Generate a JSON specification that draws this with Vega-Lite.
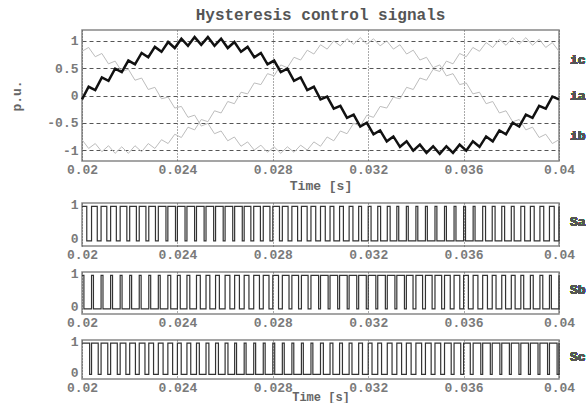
{
"$schema": "https://vega.github.io/schema/vega-lite/v6.json",
"padding": {"left": 10, "top": 6, "right": 0, "bottom": 0},
"background": "white",
"spacing": 4,
"config": {
  "view": {"stroke": "#888", "strokeWidth": 1.5},
  "font": "Liberation Mono",
  "axis": {"labelFont": "Liberation Mono", "labelFontWeight": "bold", "labelFontSize": 13, "labelColor": "#7a7a7a", "labelOverlap": false, "tickSize": 0, "domain": false, "labelPadding": 2, "gridColor": "#555", "gridOpacity": 1, "titleFont": "Liberation Mono", "titleFontWeight": "bold", "titleFontSize": 13, "titleColor": "#666"},
  "axisY": {"labelPadding": 4},
  "text": {"font": "Liberation Mono", "fontWeight": "bold", "fontSize": 13, "color": "#555"},
  "title": {"font": "Liberation Mono", "fontWeight": "bold", "fontSize": 16, "color": "#555"}
},
"datasets": {
"cur": [
{"t":0.02,"ia":-0.07,"ib":-0.81,"ic":0.81},
{"t":0.020278,"ia":0.16,"ib":-0.97,"ic":0.88},
{"t":0.020556,"ia":0.10,"ib":-0.88,"ic":0.71},
{"t":0.020833,"ia":0.33,"ib":-1.03,"ic":0.77},
{"t":0.021111,"ia":0.27,"ib":-0.92,"ic":0.58},
{"t":0.021389,"ia":0.49,"ib":-1.06,"ic":0.63},
{"t":0.021667,"ia":0.43,"ib":-0.94,"ic":0.44},
{"t":0.021944,"ia":0.64,"ib":-1.06,"ic":0.48},
{"t":0.022222,"ia":0.57,"ib":-0.92,"ic":0.28},
{"t":0.0225,"ia":0.78,"ib":-1.03,"ic":0.32},
{"t":0.022778,"ia":0.70,"ib":-0.88,"ic":0.11},
{"t":0.023056,"ia":0.89,"ib":-0.97,"ic":0.15},
{"t":0.023333,"ia":0.80,"ib":-0.81,"ic":-0.06},
{"t":0.023611,"ia":0.98,"ib":-0.88,"ic":-0.03},
{"t":0.023889,"ia":0.87,"ib":-0.71,"ic":-0.23},
{"t":0.024167,"ia":1.04,"ib":-0.77,"ic":-0.20},
{"t":0.024444,"ia":0.91,"ib":-0.58,"ic":-0.40},
{"t":0.024722,"ia":1.07,"ib":-0.63,"ic":-0.36},
{"t":0.025,"ia":0.93,"ib":-0.44,"ic":-0.56},
{"t":0.025278,"ia":1.07,"ib":-0.48,"ic":-0.51},
{"t":0.025556,"ia":0.91,"ib":-0.28,"ic":-0.70},
{"t":0.025833,"ia":1.04,"ib":-0.32,"ic":-0.65},
{"t":0.026111,"ia":0.87,"ib":-0.11,"ic":-0.83},
{"t":0.026389,"ia":0.98,"ib":-0.15,"ic":-0.76},
{"t":0.026667,"ia":0.80,"ib":0.06,"ic":-0.93},
{"t":0.026944,"ia":0.89,"ib":0.03,"ic":-0.85},
{"t":0.027222,"ia":0.70,"ib":0.23,"ic":-1.00},
{"t":0.0275,"ia":0.78,"ib":0.20,"ic":-0.91},
{"t":0.027778,"ia":0.57,"ib":0.40,"ic":-1.04},
{"t":0.028056,"ia":0.64,"ib":0.36,"ic":-0.94},
{"t":0.028333,"ia":0.43,"ib":0.56,"ic":-1.06},
{"t":0.028611,"ia":0.49,"ib":0.51,"ic":-0.94},
{"t":0.028889,"ia":0.27,"ib":0.70,"ic":-1.04},
{"t":0.029167,"ia":0.33,"ib":0.65,"ic":-0.91},
{"t":0.029444,"ia":0.10,"ib":0.83,"ic":-1.00},
{"t":0.029722,"ia":0.16,"ib":0.76,"ic":-0.85},
{"t":0.03,"ia":-0.07,"ib":0.93,"ic":-0.93},
{"t":0.030278,"ia":-0.02,"ib":0.85,"ic":-0.76},
{"t":0.030556,"ia":-0.24,"ib":1.00,"ic":-0.83},
{"t":0.030833,"ia":-0.19,"ib":0.91,"ic":-0.65},
{"t":0.031111,"ia":-0.41,"ib":1.04,"ic":-0.70},
{"t":0.031389,"ia":-0.35,"ib":0.94,"ic":-0.51},
{"t":0.031667,"ia":-0.57,"ib":1.06,"ic":-0.56},
{"t":0.031944,"ia":-0.50,"ib":0.94,"ic":-0.36},
{"t":0.032222,"ia":-0.71,"ib":1.04,"ic":-0.40},
{"t":0.0325,"ia":-0.64,"ib":0.91,"ic":-0.20},
{"t":0.032778,"ia":-0.84,"ib":1.00,"ic":-0.23},
{"t":0.033056,"ia":-0.75,"ib":0.85,"ic":-0.03},
{"t":0.033333,"ia":-0.94,"ib":0.93,"ic":-0.06},
{"t":0.033611,"ia":-0.84,"ib":0.76,"ic":0.15},
{"t":0.033889,"ia":-1.01,"ib":0.83,"ic":0.11},
{"t":0.034167,"ia":-0.90,"ib":0.65,"ic":0.32},
{"t":0.034444,"ia":-1.05,"ib":0.70,"ic":0.28},
{"t":0.034722,"ia":-0.93,"ib":0.51,"ic":0.48},
{"t":0.035,"ia":-1.07,"ib":0.56,"ic":0.44},
{"t":0.035278,"ia":-0.93,"ib":0.36,"ic":0.63},
{"t":0.035556,"ia":-1.05,"ib":0.40,"ic":0.58},
{"t":0.035833,"ia":-0.90,"ib":0.20,"ic":0.77},
{"t":0.036111,"ia":-1.01,"ib":0.23,"ic":0.71},
{"t":0.036389,"ia":-0.84,"ib":0.03,"ic":0.88},
{"t":0.036667,"ia":-0.94,"ib":0.06,"ic":0.81},
{"t":0.036944,"ia":-0.75,"ib":-0.15,"ic":0.97},
{"t":0.037222,"ia":-0.84,"ib":-0.11,"ic":0.88},
{"t":0.0375,"ia":-0.64,"ib":-0.32,"ic":1.03},
{"t":0.037778,"ia":-0.71,"ib":-0.28,"ic":0.92},
{"t":0.038056,"ia":-0.50,"ib":-0.48,"ic":1.06},
{"t":0.038333,"ia":-0.57,"ib":-0.44,"ic":0.94},
{"t":0.038611,"ia":-0.35,"ib":-0.63,"ic":1.06},
{"t":0.038889,"ia":-0.41,"ib":-0.58,"ic":0.92},
{"t":0.039167,"ia":-0.19,"ib":-0.77,"ic":1.03},
{"t":0.039444,"ia":-0.24,"ib":-0.71,"ic":0.88},
{"t":0.039722,"ia":-0.02,"ib":-0.88,"ic":0.97},
{"t":0.04,"ia":-0.07,"ib":-0.81,"ic":0.81}
],
"sa": [
{"t":0.0200,"v":1},{"t":0.02020,"v":0},{"t":0.0204,"v":1},{"t":0.02064,"v":0},{"t":0.0208,"v":1},{"t":0.02104,"v":0},{"t":0.0212,"v":1},{"t":0.02144,"v":0},{"t":0.0216,"v":1},{"t":0.02188,"v":0},
{"t":0.0220,"v":1},{"t":0.02228,"v":0},{"t":0.0224,"v":1},{"t":0.02268,"v":0},{"t":0.0228,"v":1},{"t":0.02308,"v":0},{"t":0.0232,"v":1},{"t":0.02352,"v":0},{"t":0.0236,"v":1},{"t":0.02392,"v":0},
{"t":0.0240,"v":1},{"t":0.02432,"v":0},{"t":0.0244,"v":1},{"t":0.02472,"v":0},{"t":0.0248,"v":1},{"t":0.02512,"v":0},{"t":0.0252,"v":1},{"t":0.02552,"v":0},{"t":0.0256,"v":1},{"t":0.02592,"v":0},
{"t":0.0260,"v":1},{"t":0.02632,"v":0},{"t":0.0264,"v":1},{"t":0.02672,"v":0},{"t":0.0268,"v":1},{"t":0.02708,"v":0},{"t":0.0272,"v":1},{"t":0.02748,"v":0},{"t":0.0276,"v":1},{"t":0.02788,"v":0},
{"t":0.0280,"v":1},{"t":0.02828,"v":0},{"t":0.0284,"v":1},{"t":0.02864,"v":0},{"t":0.0288,"v":1},{"t":0.02904,"v":0},{"t":0.0292,"v":1},{"t":0.02944,"v":0},{"t":0.0296,"v":1},{"t":0.02980,"v":0},
{"t":0.0300,"v":1},{"t":0.03020,"v":0},{"t":0.0304,"v":1},{"t":0.03056,"v":0},{"t":0.0308,"v":1},{"t":0.03096,"v":0},{"t":0.0312,"v":1},{"t":0.03136,"v":0},{"t":0.0316,"v":1},{"t":0.03172,"v":0},
{"t":0.0320,"v":1},{"t":0.03212,"v":0},{"t":0.0324,"v":1},{"t":0.03252,"v":0},{"t":0.0328,"v":1},{"t":0.03292,"v":0},{"t":0.0332,"v":1},{"t":0.03328,"v":0},{"t":0.0336,"v":1},{"t":0.03368,"v":0},
{"t":0.0340,"v":1},{"t":0.03408,"v":0},{"t":0.0344,"v":1},{"t":0.03448,"v":0},{"t":0.0348,"v":1},{"t":0.03488,"v":0},{"t":0.0352,"v":1},{"t":0.03528,"v":0},{"t":0.0356,"v":1},{"t":0.03568,"v":0},
{"t":0.0360,"v":1},{"t":0.03608,"v":0},{"t":0.0364,"v":1},{"t":0.03648,"v":0},{"t":0.0368,"v":1},{"t":0.03692,"v":0},{"t":0.0372,"v":1},{"t":0.03732,"v":0},{"t":0.0376,"v":1},{"t":0.03772,"v":0},
{"t":0.0380,"v":1},{"t":0.03812,"v":0},{"t":0.0384,"v":1},{"t":0.03856,"v":0},{"t":0.0388,"v":1},{"t":0.03896,"v":0},{"t":0.0392,"v":1},{"t":0.03936,"v":0},{"t":0.0396,"v":1},{"t":0.03980,"v":0},
{"t":0.0400,"v":1}
],
"sb": [
{"t":0.0200,"v":1},{"t":0.02008,"v":0},{"t":0.0204,"v":1},{"t":0.02048,"v":0},{"t":0.0208,"v":1},{"t":0.02088,"v":0},{"t":0.0212,"v":1},{"t":0.02128,"v":0},{"t":0.0216,"v":1},{"t":0.02168,"v":0},
{"t":0.0220,"v":1},{"t":0.02208,"v":0},{"t":0.0224,"v":1},{"t":0.02248,"v":0},{"t":0.0228,"v":1},{"t":0.02288,"v":0},{"t":0.0232,"v":1},{"t":0.02328,"v":0},{"t":0.0236,"v":1},{"t":0.02372,"v":0},
{"t":0.0240,"v":1},{"t":0.02412,"v":0},{"t":0.0244,"v":1},{"t":0.02452,"v":0},{"t":0.0248,"v":1},{"t":0.02496,"v":0},{"t":0.0252,"v":1},{"t":0.02536,"v":0},{"t":0.0256,"v":1},{"t":0.02576,"v":0},
{"t":0.0260,"v":1},{"t":0.02620,"v":0},{"t":0.0264,"v":1},{"t":0.02660,"v":0},{"t":0.0268,"v":1},{"t":0.02700,"v":0},{"t":0.0272,"v":1},{"t":0.02744,"v":0},{"t":0.0276,"v":1},{"t":0.02784,"v":0},
{"t":0.0280,"v":1},{"t":0.02824,"v":0},{"t":0.0284,"v":1},{"t":0.02868,"v":0},{"t":0.0288,"v":1},{"t":0.02908,"v":0},{"t":0.0292,"v":1},{"t":0.02948,"v":0},{"t":0.0296,"v":1},{"t":0.02992,"v":0},
{"t":0.0300,"v":1},{"t":0.03032,"v":0},{"t":0.0304,"v":1},{"t":0.03072,"v":0},{"t":0.0308,"v":1},{"t":0.03112,"v":0},{"t":0.0312,"v":1},{"t":0.03152,"v":0},{"t":0.0316,"v":1},{"t":0.03192,"v":0},
{"t":0.0320,"v":1},{"t":0.03232,"v":0},{"t":0.0324,"v":1},{"t":0.03272,"v":0},{"t":0.0328,"v":1},{"t":0.03312,"v":0},{"t":0.0332,"v":1},{"t":0.03352,"v":0},{"t":0.0336,"v":1},{"t":0.03388,"v":0},
{"t":0.0340,"v":1},{"t":0.03428,"v":0},{"t":0.0344,"v":1},{"t":0.03468,"v":0},{"t":0.0348,"v":1},{"t":0.03508,"v":0},{"t":0.0352,"v":1},{"t":0.03544,"v":0},{"t":0.0356,"v":1},{"t":0.03584,"v":0},
{"t":0.0360,"v":1},{"t":0.03620,"v":0},{"t":0.0364,"v":1},{"t":0.03660,"v":0},{"t":0.0368,"v":1},{"t":0.03700,"v":0},{"t":0.0372,"v":1},{"t":0.03736,"v":0},{"t":0.0376,"v":1},{"t":0.03776,"v":0},
{"t":0.0380,"v":1},{"t":0.03816,"v":0},{"t":0.0384,"v":1},{"t":0.03852,"v":0},{"t":0.0388,"v":1},{"t":0.03892,"v":0},{"t":0.0392,"v":1},{"t":0.03932,"v":0},{"t":0.0396,"v":1},{"t":0.03968,"v":0},
{"t":0.0400,"v":1}
],
"sc": [
{"t":0.0200,"v":1},{"t":0.02032,"v":0},{"t":0.0204,"v":1},{"t":0.02068,"v":0},{"t":0.0208,"v":1},{"t":0.02108,"v":0},{"t":0.0212,"v":1},{"t":0.02148,"v":0},{"t":0.0216,"v":1},{"t":0.02184,"v":0},
{"t":0.0220,"v":1},{"t":0.02224,"v":0},{"t":0.0224,"v":1},{"t":0.02264,"v":0},{"t":0.0228,"v":1},{"t":0.02300,"v":0},{"t":0.0232,"v":1},{"t":0.02340,"v":0},{"t":0.0236,"v":1},{"t":0.02380,"v":0},
{"t":0.0240,"v":1},{"t":0.02416,"v":0},{"t":0.0244,"v":1},{"t":0.02456,"v":0},{"t":0.0248,"v":1},{"t":0.02492,"v":0},{"t":0.0252,"v":1},{"t":0.02532,"v":0},{"t":0.0256,"v":1},{"t":0.02572,"v":0},
{"t":0.0260,"v":1},{"t":0.02612,"v":0},{"t":0.0264,"v":1},{"t":0.02648,"v":0},{"t":0.0268,"v":1},{"t":0.02688,"v":0},{"t":0.0272,"v":1},{"t":0.02728,"v":0},{"t":0.0276,"v":1},{"t":0.02768,"v":0},
{"t":0.0280,"v":1},{"t":0.02808,"v":0},{"t":0.0284,"v":1},{"t":0.02848,"v":0},{"t":0.0288,"v":1},{"t":0.02888,"v":0},{"t":0.0292,"v":1},{"t":0.02928,"v":0},{"t":0.0296,"v":1},{"t":0.02968,"v":0},
{"t":0.0300,"v":1},{"t":0.03012,"v":0},{"t":0.0304,"v":1},{"t":0.03052,"v":0},{"t":0.0308,"v":1},{"t":0.03092,"v":0},{"t":0.0312,"v":1},{"t":0.03132,"v":0},{"t":0.0316,"v":1},{"t":0.03176,"v":0},
{"t":0.0320,"v":1},{"t":0.03216,"v":0},{"t":0.0324,"v":1},{"t":0.03256,"v":0},{"t":0.0328,"v":1},{"t":0.03300,"v":0},{"t":0.0332,"v":1},{"t":0.03340,"v":0},{"t":0.0336,"v":1},{"t":0.03380,"v":0},
{"t":0.0340,"v":1},{"t":0.03424,"v":0},{"t":0.0344,"v":1},{"t":0.03464,"v":0},{"t":0.0348,"v":1},{"t":0.03504,"v":0},{"t":0.0352,"v":1},{"t":0.03548,"v":0},{"t":0.0356,"v":1},{"t":0.03588,"v":0},
{"t":0.0360,"v":1},{"t":0.03628,"v":0},{"t":0.0364,"v":1},{"t":0.03672,"v":0},{"t":0.0368,"v":1},{"t":0.03712,"v":0},{"t":0.0372,"v":1},{"t":0.03752,"v":0},{"t":0.0376,"v":1},{"t":0.03792,"v":0},
{"t":0.0380,"v":1},{"t":0.03832,"v":0},{"t":0.0384,"v":1},{"t":0.03872,"v":0},{"t":0.0388,"v":1},{"t":0.03912,"v":0},{"t":0.0392,"v":1},{"t":0.03952,"v":0},{"t":0.0396,"v":1},{"t":0.03992,"v":0},
{"t":0.0400,"v":1}
]
},
"vconcat": [
{
  "width": 477, "height": 131,
  "title": {"text": "Hysteresis control signals", "anchor": "middle", "frame": "group", "offset": 7},
  "data": {"name": "cur"},
  "encoding": {
    "x": {"field": "t", "type": "quantitative", "scale": {"domain": [0.02, 0.04], "nice": false, "zero": false},
          "axis": {"values": [0.02, 0.024, 0.028, 0.032, 0.036, 0.04], "format": ".3~f", "title": "Time [s]", "grid": true, "gridDash": [1, 2], "labelFlush": false, "titlePadding": 3}}
  },
  "layer": [
    {"transform": [{"fold": ["ib", "ic"], "as": ["ph", "val"]}],
     "mark": {"type": "line", "color": "#bdbdbd", "strokeWidth": 1},
     "encoding": {
       "y": {"field": "val", "type": "quantitative", "scale": {"domain": [-1.2, 1.2], "nice": false},
             "axis": {"values": [-1, -0.5, 0, 0.5, 1], "labelExpr": "'' + datum.value", "title": "p.u.", "grid": true, "gridDash": [4, 3], "titlePadding": 23}},
       "detail": {"field": "ph"}
     }},
    {"mark": {"type": "line", "color": "#111", "strokeWidth": 2.5},
     "encoding": {"y": {"field": "ia", "type": "quantitative",
             "axis": {"values": [-1, -0.5, 0, 0.5, 1], "labelExpr": "'' + datum.value", "title": "p.u.", "grid": true, "gridDash": [4, 3], "titlePadding": 23}}}},
    {"mark": {"type": "text", "text": "ic", "align": "left", "dx": 11},
     "encoding": {"x": {"datum": 0.04, "type": "quantitative"}, "y": {"datum": 0.65, "type": "quantitative",
             "axis": {"values": [-1, -0.5, 0, 0.5, 1], "labelExpr": "'' + datum.value", "title": "p.u.", "grid": true, "gridDash": [4, 3], "titlePadding": 23}}}},
    {"mark": {"type": "text", "text": "ia", "align": "left", "dx": 11},
     "encoding": {"x": {"datum": 0.04, "type": "quantitative"}, "y": {"datum": 0, "type": "quantitative",
             "axis": {"values": [-1, -0.5, 0, 0.5, 1], "labelExpr": "'' + datum.value", "title": "p.u.", "grid": true, "gridDash": [4, 3], "titlePadding": 23}}}},
    {"mark": {"type": "text", "text": "ib", "align": "left", "dx": 11},
     "encoding": {"x": {"datum": 0.04, "type": "quantitative"}, "y": {"datum": -0.75, "type": "quantitative",
             "axis": {"values": [-1, -0.5, 0, 0.5, 1], "labelExpr": "'' + datum.value", "title": "p.u.", "grid": true, "gridDash": [4, 3], "titlePadding": 23}}}}
  ]
},
{
  "width": 477, "height": 43,
  "data": {"name": "sa"},
  "layer": [
    {"mark": {"type": "line", "interpolate": "step-after", "color": "#333", "strokeWidth": 1.2},
     "encoding": {
       "x": {"field": "t", "type": "quantitative", "scale": {"domain": [0.02, 0.04], "nice": false, "zero": false},
             "axis": {"values": [0.02, 0.024, 0.028, 0.032, 0.036, 0.04], "format": ".3~f", "title": null, "grid": true, "gridDash": [1, 2], "labelFlush": false}},
       "y": {"field": "v", "type": "quantitative", "scale": {"domain": [-0.15, 1.1], "nice": false},
             "axis": {"values": [0, 1], "labelExpr": "'' + datum.value", "labelOffset": -2, "title": null, "grid": false}}
     }},
    {"mark": {"type": "text", "text": "Sa", "align": "left", "dx": 11},
     "encoding": {"x": {"datum": 0.04, "type": "quantitative"}, "y": {"datum": 0.55, "type": "quantitative"}}}
  ]
},
{
  "width": 477, "height": 42,
  "data": {"name": "sb"},
  "layer": [
    {"mark": {"type": "line", "interpolate": "step-after", "color": "#333", "strokeWidth": 1.2},
     "encoding": {
       "x": {"field": "t", "type": "quantitative", "scale": {"domain": [0.02, 0.04], "nice": false, "zero": false},
             "axis": {"values": [0.02, 0.024, 0.028, 0.032, 0.036, 0.04], "format": ".3~f", "title": null, "grid": true, "gridDash": [1, 2], "labelFlush": false}},
       "y": {"field": "v", "type": "quantitative", "scale": {"domain": [-0.15, 1.1], "nice": false},
             "axis": {"values": [0, 1], "labelExpr": "'' + datum.value", "labelOffset": -2, "title": null, "grid": false}}
     }},
    {"mark": {"type": "text", "text": "Sb", "align": "left", "dx": 11},
     "encoding": {"x": {"datum": 0.04, "type": "quantitative"}, "y": {"datum": 0.55, "type": "quantitative"}}}
  ]
},
{
  "width": 477, "height": 39,
  "data": {"name": "sc"},
  "layer": [
    {"mark": {"type": "line", "interpolate": "step-after", "color": "#333", "strokeWidth": 1.2},
     "encoding": {
       "x": {"field": "t", "type": "quantitative", "scale": {"domain": [0.02, 0.04], "nice": false, "zero": false},
             "axis": {"values": [0.02, 0.024, 0.028, 0.032, 0.036, 0.04], "format": ".3~f", "title": "Time [s]", "titleFontSize": 12, "grid": true, "gridDash": [1, 2], "labelFlush": false, "titlePadding": -3}},
       "y": {"field": "v", "type": "quantitative", "scale": {"domain": [-0.15, 1.1], "nice": false},
             "axis": {"values": [0, 1], "labelExpr": "'' + datum.value", "labelOffset": -2, "title": null, "grid": false}}
     }},
    {"mark": {"type": "text", "text": "Sc", "align": "left", "dx": 11},
     "encoding": {"x": {"datum": 0.04, "type": "quantitative"}, "y": {"datum": 0.55, "type": "quantitative"}}}
  ]
}
]
}
